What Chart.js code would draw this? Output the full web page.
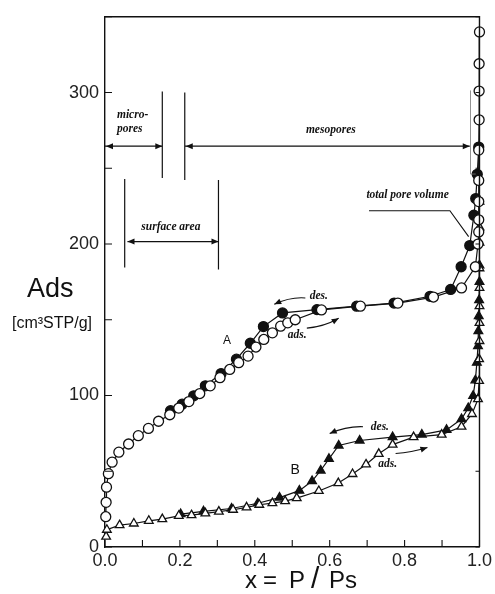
<!DOCTYPE html>
<html>
<head>
<meta charset="utf-8">
<script src="https://cdn.jsdelivr.net/npm/chart.js@4.4.0/dist/chart.umd.min.js"></script>
<style>
  html, body { margin: 0; padding: 0; background: #fff; }
  #wrap { width: 495px; height: 594px; }
</style>
</head>
<body>
<div id="wrap"><canvas id="isotherm" width="495" height="594"></canvas></div>
<script>
// sample A: open circles = adsorption, filled circles = desorption
const aAdsX = [0.002, 0.003, 0.004, 0.009, 0.019, 0.037, 0.063, 0.089, 0.116, 0.143,
               0.173, 0.197, 0.224, 0.253, 0.281, 0.307, 0.333, 0.357, 0.382, 0.403,
               0.424, 0.447, 0.469, 0.488, 0.508, 0.578, 0.682, 0.782, 0.877, 0.952,
               0.989, 0.996, 0.998, 0.998, 0.998, 0.998, 0.998, 0.999, 0.999, 0.999, 1.0];
const aAdsY = [20, 29.5, 39.5, 48.4, 56, 62.6, 68, 73.5, 78.3, 83,
               87.3, 91.7, 96, 101.3, 106.4, 111.8, 117.2, 121.7, 126, 132,
               137, 141.4, 145.8, 148, 150, 156.5, 159, 161, 165, 171,
               185, 200, 208, 216, 228, 242, 262, 282, 301, 319, 340];
const aDesX = [0.998, 0.994, 0.99, 0.985, 0.974, 0.951, 0.923, 0.868, 0.772, 0.672,
               0.566, 0.474, 0.423, 0.388, 0.351, 0.31, 0.268, 0.237, 0.206, 0.175];
const aDesY = [264, 246, 230, 219, 199, 185, 170, 165.5, 161, 159,
               156.7, 154.5, 145.5, 134.5, 124, 114.5, 106.4, 99.8, 94.3, 90];

// sample B: open triangles = adsorption, filled triangles = desorption
const bAdsX = [0.003, 0.005, 0.039, 0.077, 0.117, 0.153, 0.197, 0.231, 0.268, 0.304,
               0.342, 0.378, 0.412, 0.447, 0.481, 0.512, 0.571, 0.623, 0.661, 0.697,
               0.731, 0.768, 0.824, 0.899, 0.952, 0.98, 0.996, 0.999, 0.999, 1.0,
               1.0, 1.0, 1.0, 1.0, 1.0, 1.0, 1.0];
const bAdsY = [6.8, 11.4, 14.4, 15.5, 17.3, 18.4, 20.6, 21, 22.2, 23.4,
               24.6, 26.2, 27.9, 29, 30.3, 32.3, 37, 42.2, 48.2, 54.5,
               61.5, 67.6, 72.5, 74.2, 79.4, 87.8, 97.6, 109.6, 124, 136,
               148, 159, 171, 184, 201, 211, 228];
const bDesX = [1.0, 1.0, 0.999, 0.998, 0.997, 0.996, 0.993, 0.989, 0.983, 0.97,
               0.952, 0.912, 0.846, 0.768, 0.68, 0.624, 0.598, 0.576, 0.553, 0.519,
               0.466, 0.408, 0.338, 0.263, 0.202];
const bDesY = [186, 175, 163, 152.5, 142.5, 132.6, 121.7, 110, 99.8, 91.7,
               84.5, 77.3, 74.2, 72.5, 70.3, 67, 58.2, 50.5, 43.5, 37.2,
               32.6, 28.9, 25.4, 23.5, 21.7];

const yTickLabels = [0, 100, 200, 300];
const xTickLabels = [0.0, 0.2, 0.4, 0.6, 0.8, 1.0];

const INK = '#111';

function toPoints(xs, ys) {
    return xs.map((x, i) => ({ x: x, y: ys[i] }));
}

function series(xs, ys, style, filled) {
    return {
        data: toPoints(xs, ys),
        showLine: true,
        borderColor: INK,
        borderWidth: 1.2,
        pointStyle: style,
        pointRadius: 5,
        pointBorderWidth: 1.3,
        pointBorderColor: INK,
        pointBackgroundColor: filled ? INK : '#fff',
        tension: 0,
        clip: false
    };
}

// arrow head pointing along angle
function head(ctx, x, y, angle) {
    ctx.save();
    ctx.translate(x, y);
    ctx.rotate(angle);
    ctx.beginPath();
    ctx.moveTo(0, 0);
    ctx.lineTo(-7, -3);
    ctx.lineTo(-7, 3);
    ctx.closePath();
    ctx.fill();
    ctx.restore();
}

const decorPlugin = {
    id: 'decor',
    afterDraw(chart) {
        const ctx = chart.ctx;
        const xs = chart.scales.x, ys = chart.scales.y, area = chart.chartArea;
        const X = v => xs.getPixelForValue(v);
        const Y = v => ys.getPixelForValue(v);

        ctx.save();
        ctx.strokeStyle = INK;
        ctx.fillStyle = INK;

        // top and right frame
        ctx.lineWidth = 1.4;
        ctx.beginPath();
        ctx.moveTo(area.left, area.top);
        ctx.lineTo(area.right, area.top);
        ctx.lineTo(area.right, area.bottom);
        ctx.stroke();

        // inward tick marks
        ctx.lineWidth = 1.1;
        ctx.beginPath();
        ys.ticks.forEach(t => {
            const p = Y(t.value);
            ctx.moveTo(area.left, p);
            ctx.lineTo(area.left + 7, p);
            ctx.moveTo(area.right, p);
            ctx.lineTo(area.right - 4, p);
        });
        xs.ticks.forEach(t => {
            const p = X(t.value);
            ctx.moveTo(p, area.bottom);
            ctx.lineTo(p, area.bottom - 7);
        });
        ctx.stroke();

        // pore range brackets
        ctx.lineWidth = 1.2;
        ctx.beginPath();
        ctx.moveTo(X(0.153), Y(300.7)); ctx.lineTo(X(0.153), Y(243.6));
        ctx.moveTo(X(0.213), Y(300)); ctx.lineTo(X(0.213), Y(242.3));
        ctx.moveTo(X(0.0526), Y(243)); ctx.lineTo(X(0.0526), Y(184.5));
        ctx.moveTo(X(0.303), Y(242.3)); ctx.lineTo(X(0.303), Y(183.2));
        // micropores arrow
        ctx.moveTo(X(0.0), Y(264.6)); ctx.lineTo(X(0.153), Y(264.6));
        // mesopores arrow
        ctx.moveTo(X(0.213), Y(264.6)); ctx.lineTo(X(0.974), Y(264.6));
        // surface area arrow
        ctx.moveTo(X(0.06), Y(201.6)); ctx.lineTo(X(0.303), Y(201.6));
        ctx.stroke();
        head(ctx, X(0.0) + 1, Y(264.6), Math.PI);
        head(ctx, X(0.153), Y(264.6), 0);
        head(ctx, X(0.213) + 1, Y(264.6), Math.PI);
        head(ctx, X(0.974), Y(264.6), 0);
        head(ctx, X(0.06), Y(201.6), Math.PI);
        head(ctx, X(0.303), Y(201.6), 0);

        // thin boundary line near saturation
        ctx.strokeStyle = '#777';
        ctx.lineWidth = 0.8;
        ctx.beginPath();
        ctx.moveTo(X(0.976), Y(301.4));
        ctx.lineTo(X(0.976), Y(246.2));
        ctx.lineTo(X(0.99), Y(246.2));
        ctx.stroke();

        // total pore volume pointer
        ctx.strokeStyle = INK;
        ctx.lineWidth = 1.1;
        ctx.beginPath();
        ctx.moveTo(X(0.705), Y(222));
        ctx.lineTo(X(0.921), Y(222));
        ctx.lineTo(X(0.971), Y(204.9));
        ctx.stroke();

        // des./ads. curved arrows
        const curved = [
            [0.535, 164.4, 0.495, 165.2, 0.452, 160.2],
            [0.539, 144.5, 0.585, 145.4, 0.624, 151],
            [0.689, 79.4, 0.645, 79.8, 0.6, 74.9],
            [0.776, 61.7, 0.818, 62.4, 0.861, 65.7]
        ];
        ctx.lineWidth = 1.1;
        curved.forEach(c => {
            const x0 = X(c[0]), y0 = Y(c[1]), cx = X(c[2]), cy = Y(c[3]), x1 = X(c[4]), y1 = Y(c[5]);
            ctx.beginPath();
            ctx.moveTo(x0, y0);
            ctx.quadraticCurveTo(cx, cy, x1, y1);
            ctx.stroke();
            head(ctx, x1, y1, Math.atan2(y1 - cy, x1 - cx));
        });

        // annotation text
        ctx.font = 'italic bold 11.5px "Liberation Serif"';
        ctx.textBaseline = 'middle';
        ctx.textAlign = 'left';
        ctx.fillText('micro-', X(0.032), Y(285));
        ctx.fillText('pores', X(0.032), Y(275.8));
        ctx.textAlign = 'center';
        ctx.fillText('mesopores', X(0.603), Y(275));
        ctx.fillText('surface area', X(0.176), Y(211.4));
        ctx.fillText('total pore volume', X(0.808), Y(232.4));
        ctx.fillText('des.', X(0.571), Y(165.5));
        ctx.fillText('ads.', X(0.513), Y(139.9));
        ctx.fillText('des.', X(0.734), Y(79.4));
        ctx.fillText('ads.', X(0.755), Y(54.5));

        ctx.font = '12px "Liberation Sans"';
        ctx.fillText('A', X(0.326), Y(135.9));
        ctx.font = '14px "Liberation Sans"';
        ctx.fillText('B', X(0.508), Y(50.6));

        // axis titles
        ctx.textAlign = 'left';
        ctx.textBaseline = 'alphabetic';
        ctx.font = '27px "Liberation Sans"';
        ctx.fillText('Ads', 27, 297);
        ctx.font = '16px "Liberation Sans"';
        ctx.fillText('[cm³STP/g]', 12, 328);

        // x title, glyphs spread out as in the original lettering
        const glyphs = ['x', '=', 'P', '/', 'P', 's'];
        const gx = [245, 263, 289, 311, 329, 345];
        glyphs.forEach((g, i) => {
            ctx.font = g === '/' ? '30px "Liberation Sans"' : '24px "Liberation Sans"';
            ctx.fillText(g, gx[i], 588);
        });
        ctx.restore();
    }
};

const ctx = document.getElementById('isotherm').getContext('2d');
new Chart(ctx, {
    type: 'scatter',
    data: {
        datasets: [
            series(aAdsX, aAdsY, 'circle', false),
            series(bAdsX, bAdsY, 'triangle', false),
            series(aDesX, aDesY, 'circle', true),
            series(bDesX, bDesY, 'triangle', true)
        ]
    },
    options: {
        responsive: false,
        animation: false,
        layout: { padding: { top: 14, right: 11, left: 0, bottom: 0 } },
        plugins: {
            legend: { display: false },
            tooltip: { enabled: false }
        },
        scales: {
            x: {
                type: 'linear',
                min: 0,
                max: 1.0,
                afterFit: scale => { scale.height = 47; },
                grid: { display: false, drawTicks: false },
                border: { display: true, color: INK, width: 1.4 },
                ticks: {
                    stepSize: 0.1,
                    autoSkip: false,
                    maxRotation: 0,
                    padding: 3,
                    color: '#222',
                    font: { family: 'Liberation Sans', size: 18 },
                    callback: v => {
                        const hit = xTickLabels.find(l => Math.abs(l - v) < 1e-6);
                        return hit === undefined ? '' : hit.toFixed(1);
                    }
                }
            },
            y: {
                type: 'linear',
                min: 0,
                max: 350,
                afterFit: scale => { scale.width = 105; },
                grid: { display: false, drawTicks: false },
                border: { display: true, color: INK, width: 1.4 },
                ticks: {
                    stepSize: 50,
                    autoSkip: false,
                    padding: 6,
                    color: '#222',
                    font: { family: 'Liberation Sans', size: 18 },
                    callback: v => yTickLabels.includes(v) ? String(v) : ''
                }
            }
        }
    },
    plugins: [decorPlugin]
});
</script>
</body>
</html>
